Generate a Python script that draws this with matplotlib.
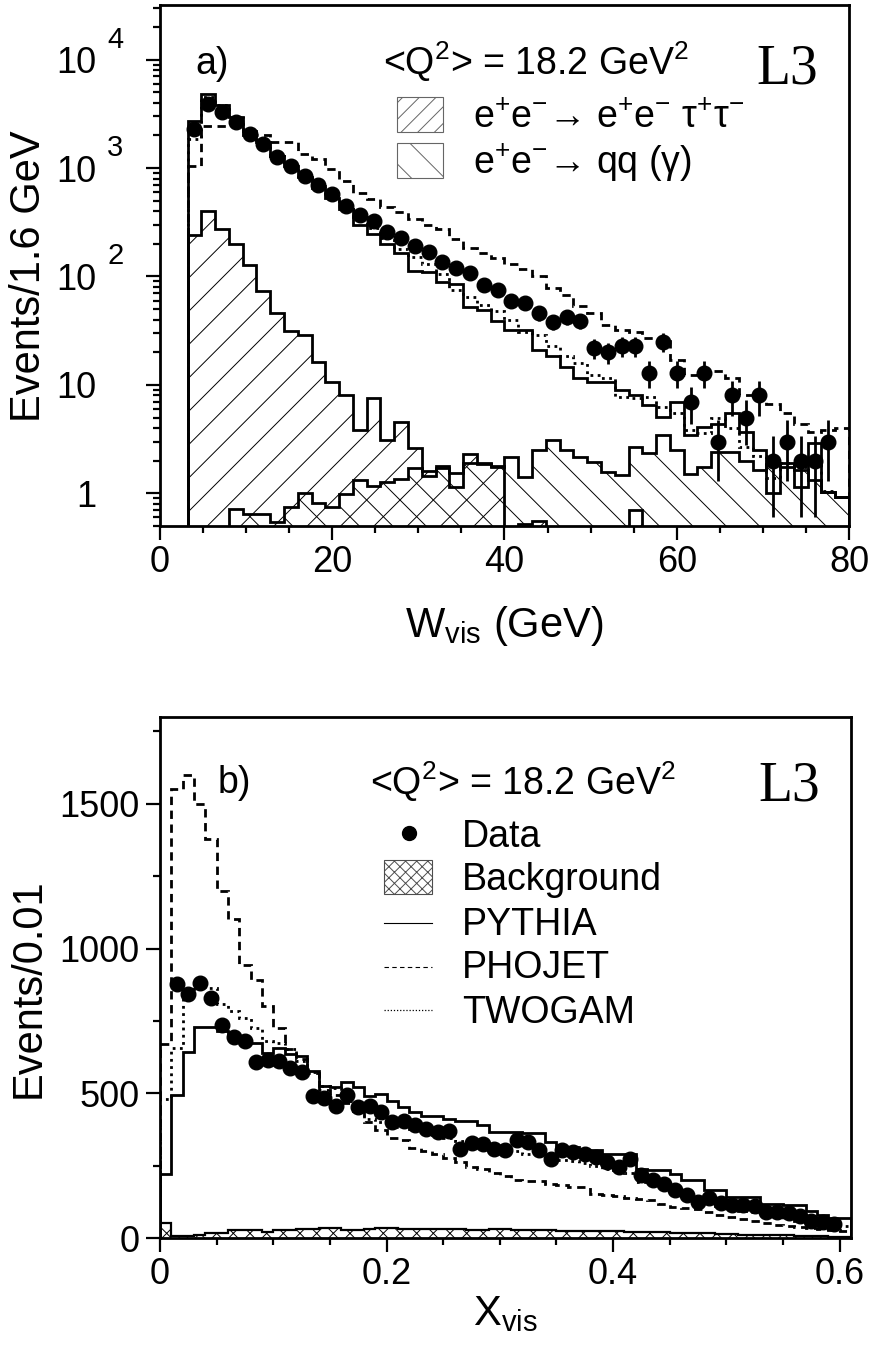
# L3 W_vis / x_vis distributions, <Q^2> = 18.2 GeV^2

import numpy as np
import matplotlib
matplotlib.use('Agg')
import matplotlib.pyplot as plt
import matplotlib.transforms as mtransforms
from matplotlib.patches import Rectangle
from matplotlib.lines import Line2D
from matplotlib.ticker import FixedLocator, FixedFormatter, MultipleLocator, LogLocator, NullFormatter, FuncFormatter

plt.rcParams['font.family'] = ['Liberation Sans', 'DejaVu Sans']
plt.rcParams['mathtext.fontset'] = 'custom'
plt.rcParams['mathtext.rm'] = 'Liberation Sans'
plt.rcParams['mathtext.it'] = 'Liberation Sans:italic'
plt.rcParams['mathtext.bf'] = 'Liberation Sans:bold'
plt.rcParams['hatch.linewidth'] = 0.7

# ---- panel a) : W_vis, bins of 1.6 GeV (50 bins, 0-80 GeV)
w_edges = np.arange(51) * 1.6
w_first = 2          # first bin with data
data_w = [2296, 3916, 3280, 2650, 2065, 1667, 1256, 1037, 849, 696, 575, 448, 367, 325, 257,
          228, 191, 168, 136, 120, 108, 84, 75, 59, 57, 46, 38, 42, 39, 22, 20, 23, 23, 13, 25,
          13, 7, 13, 3, 8, 5, 8, 2, 3, 2, 2, 3]
err_w = [48, 63, 57, 51, 45, 41, 35, 32, 29, 26, 24, 21, 19, 18, 16, 15, 14, 13, 12, 11, 10,
         9.2, 8.7, 7.7, 7.5, 6.8, 6.2, 6.5, 6.2, 4.7, 4.5, 4.8, 4.8, 3.6, 5.0, 3.6, 2.6, 3.6,
         1.7, 2.8, 2.2, 2.8, 1.4, 1.7, 1.4, 1.4, 1.7]
pythia_w = [0, 0, 2740, 4840, 3840, 2950, 2200, 1750, 1300, 1050, 820, 650, 530, 420, 300, 245,
            198, 165, 112, 110, 88, 85, 52, 49, 38.5, 32, 32, 21, 18.3, 14.7, 11.5, 10.7, 10.7,
            9.0, 8.1, 6.5, 5.1, 7.0, 3.45, 4.1, 4.4, 5.5, 3.7, 2.5, 1.0, 1.9, 1.14, 2.9, 1.03, 0.92]
phojet_w = [0, 0, 1050, 2420, 2420, 2420, 2000, 2000, 1740, 1740, 1340, 1220, 980, 760, 595, 520,
            435, 390, 340, 300, 272, 220, 184, 163, 149, 129, 116, 100, 78, 68, 53, 46, 36, 32,
            31, 27, 26.5, 17, 12.4, 12.8, 13.3, 11.5, 8.1, 7.5, 6.7, 5.5, 4.4, 3.7, 3.8, 4.0]
twogam_w = [0, 0, 1850, 4500, 3800, 2900, 2200, 1700, 1300, 1050, 850, 680, 550, 440, 350, 280,
            225, 180, 150, 130, 105, 75, 64, 55, 48, 40, 31, 29, 22.6, 18.3, 15.9, 12.4, 11.6,
            7.8, 7.6, 7.8, 6.3, 5.5, 3.8, 3.6, 4.9, 4.0, 2.7, 2.2, 1.37, 1.9, 1.75, 1.9, 1.06, 0.92]
tautau_w = [0, 0, 240, 400, 272, 198, 127, 73, 46, 31.6, 29, 16.4, 10.7, 8.1, 3.8, 7.5, 3.1, 4.5,
            2.6, 1.6, 1.7, 1.15, 2.3, 1.9, 1.8, 0, 0.52, 0.56, 0, 0, 0, 0, 0, 0, 0.7, 0, 0, 0, 0,
            0, 0, 0, 0, 0, 0, 0, 0, 0, 0, 0]
qq_w = [0, 0, 0, 0, 0, 0.71, 0.64, 0.64, 0.54, 0.75, 1.0, 0.82, 0.74, 0.98, 1.32, 1.17, 1.27, 1.35,
        1.7, 1.45, 1.8, 1.55, 1.9, 1.85, 1.75, 2.17, 1.42, 2.5, 3.1, 2.5, 2.17, 1.95, 1.57, 1.47,
        2.68, 2.33, 3.45, 2.5, 1.5, 1.75, 2.4, 2.4, 2.0, 1.63, 1.88, 1.75, 1.63, 1.32, 1.03, 0.92]
w_yticks = [1, 10, 100, 1000, 10000]
w_ytick_base = ['1', '10', '10', '10', '10']
w_ytick_exp = ['', '', '2', '3', '4']

# ---- panel b) : x_vis, bins of 0.01 (61 bins, 0-0.61)
x_edges = np.arange(62) * 0.01
x_first = 1
data_x = [877, 843, 880, 829, 736, 693, 681, 609, 615, 612, 589, 572, 490, 484, 457, 494, 454,
          457, 437, 400, 406, 390, 377, 368, 371, 308, 328, 326, 308, 303, 337, 331, 303, 274,
          303, 297, 291, 280, 262, 245, 274, 217, 200, 188, 165, 150, 125, 140, 120, 115, 115,
          110, 90, 90, 85, 75, 60, 55, 50]
pythia_x = [220, 494, 644, 729, 729, 715, 704, 679, 675, 641, 658, 635, 629, 576, 526, 521, 540,
            521, 492, 498, 475, 454, 435, 420, 423, 410, 406, 406, 389, 366, 366, 366, 362, 362,
            331, 314, 314, 303, 303, 291, 291, 291, 240, 234, 234, 222, 200, 200, 165, 165, 142,
            142, 142, 119, 119, 114, 114, 95, 80, 70, 70]
phojet_x = [670, 1550, 1600, 1500, 1380, 1200, 1103, 945, 893, 802, 727, 652, 618, 570, 513, 495,
            468, 440, 402, 372, 344, 337, 310, 300, 289, 275, 262, 245, 238, 225, 215, 200, 196,
            196, 185, 182, 178, 175, 152, 150, 145, 138, 134, 132, 118, 107, 105, 100, 90, 80, 72,
            65, 58, 52, 46, 42, 38, 34, 30, 27, 25]
twogam_x = [480, 658, 842, 870, 865, 807, 784, 761, 724, 680, 673, 652, 612, 572, 526, 517, 475,
            452, 412, 400, 393, 385, 375, 365, 355, 345, 335, 330, 320, 305, 300, 300, 292, 290,
            285, 270, 265, 260, 250, 240, 235, 225, 195, 185, 175, 150, 145, 135, 125, 110, 105,
            95, 90, 80, 75, 65, 60, 55, 50, 45, 40]
bkg_x = [53, 8, 8, 10, 19, 19, 27, 27, 27, 20, 27, 27, 31, 31, 34, 34, 28, 28, 30, 34, 34, 30, 30,
         32, 32, 30, 30, 28, 28, 30, 30, 28, 28, 27, 27, 26, 26, 25, 25, 24, 24, 22, 22, 20, 20,
         18, 18, 16, 16, 14, 14, 12, 12, 10, 10, 9, 8, 7, 6, 5, 5]

TICK_FS = 26
LABEL_FS = 30
LEG_FS = 27
LW = 2.0
DASH = (0, (3, 2))
DOT = (0, (1, 1.6))


def style_axes(ax):
    for s in ax.spines.values():
        s.set_linewidth(2)
    ax.tick_params(which='both', direction='out', width=1.6, labelsize=TICK_FS,
                   top=False, right=False)
    ax.tick_params(which='major', length=10)
    ax.tick_params(which='minor', length=5)
    ax.tick_params(axis='x', which='major', pad=4)
    ax.tick_params(axis='y', which='major', pad=5)


fig = plt.figure(figsize=(8.72, 13.59), dpi=100)
ax1 = fig.add_axes([0.1835, 0.6130, 0.7901, 0.3834])
ax2 = fig.add_axes([0.1835, 0.0890, 0.7924, 0.3834])

# ---------------- panel a
ax1.set_yscale('log')
floor = 1e-3
tau = np.clip(np.array(tautau_w, float), floor, None)
qq = np.clip(np.array(qq_w, float), floor, None)
ax1.stairs(tau, w_edges, baseline=floor, fill=True, hatch='/', facecolor='none',
           edgecolor='black', lw=0)
ax1.stairs(qq, w_edges, baseline=floor, fill=True, hatch='\\', facecolor='none',
           edgecolor='black', lw=0)
ax1.stairs(tau, w_edges, baseline=floor, color='black', lw=LW)
ax1.stairs(qq, w_edges, baseline=floor, color='black', lw=LW)
ax1.stairs(np.clip(pythia_w, floor, None), w_edges, baseline=floor, color='black', lw=LW)
ax1.stairs(np.clip(phojet_w, floor, None), w_edges, baseline=floor, color='black', lw=LW,
           linestyle=DASH)
ax1.stairs(np.clip(twogam_w, floor, None), w_edges, baseline=floor, color='black', lw=LW,
           linestyle=DOT)

w_cent = (w_edges[:-1] + w_edges[1:]) / 2
wc = w_cent[w_first:w_first + len(data_w)]
ax1.errorbar(wc, data_w, yerr=err_w, fmt='o', color='black', ms=10.5, elinewidth=2, capsize=0)

ax1.set_xlim(0, 80)
ax1.set_ylim(0.5, 3.2e4)
style_axes(ax1)
ax1.tick_params(axis='y', which='major', pad=36)
ax1.xaxis.set_major_locator(MultipleLocator(20))
ax1.xaxis.set_minor_locator(MultipleLocator(5))
ax1.yaxis.set_major_locator(FixedLocator(w_yticks))
ax1.yaxis.set_major_formatter(FixedFormatter(w_ytick_base))
ax1.yaxis.set_minor_locator(LogLocator(base=10, subs=np.arange(2, 10)))
ax1.yaxis.set_minor_formatter(NullFormatter())
# exponents of the decade labels, drawn PAW-style to the right of the "10"
exp_tr = mtransforms.offset_copy(ax1.get_yaxis_transform(), fig=fig, x=-53, y=12, units='dots')
for yv, e in zip(w_yticks, w_ytick_exp):
    if e:
        ax1.text(0, yv, e, transform=exp_tr, fontsize=21, ha='left', va='baseline')

ax1.set_xlabel(r'W$_{\rm vis}$ (GeV)', fontsize=LABEL_FS, va='baseline')
ax1.xaxis.set_label_coords(0.5, -0.213)
ax1.set_ylabel('Events/1.6 GeV', fontsize=LABEL_FS, va='center')
ax1.yaxis.set_label_coords(-0.19, 0.48)

ax1.text(0.051, 0.868, 'a)', transform=ax1.transAxes, fontsize=LEG_FS, va='baseline')
ax1.text(0.324, 0.866, r'<Q$^{2}$> = 18.2 GeV$^{2}$', transform=ax1.transAxes,
         fontsize=LEG_FS, va='baseline')
ax1.text(0.866, 0.850, 'L3', transform=ax1.transAxes, fontsize=40, va='baseline',
         family='Liberation Serif')
ax1.add_patch(Rectangle((0.344, 0.756), 0.0668, 0.0672, transform=ax1.transAxes,
                        facecolor='none', edgecolor='0.4', lw=0.8, hatch='//'))
ax1.add_patch(Rectangle((0.344, 0.668), 0.0668, 0.0672, transform=ax1.transAxes,
                        facecolor='none', edgecolor='0.4', lw=0.8, hatch='\\'))
ax1.text(0.454, 0.764, 'e$^{+}$e$^{-}$\u2192 e$^{+}$e$^{-}$ \u03c4$^{+}$\u03c4$^{-}$',
         transform=ax1.transAxes, fontsize=LEG_FS, va='baseline')
ax1.text(0.454, 0.676, 'e$^{+}$e$^{-}$\u2192 qq (\u03b3)',
         transform=ax1.transAxes, fontsize=LEG_FS, va='baseline')

# ---------------- panel b
ax2.stairs(bkg_x, x_edges, baseline=0, fill=True, hatch='xx', facecolor='none',
           edgecolor='black', lw=0)
ax2.stairs(bkg_x, x_edges, baseline=0, color='black', lw=1.6)
ax2.stairs(pythia_x, x_edges, baseline=0, color='black', lw=LW)
ax2.stairs(phojet_x, x_edges, baseline=0, color='black', lw=LW, linestyle=DASH)
ax2.stairs(twogam_x, x_edges, baseline=0, color='black', lw=LW, linestyle=DOT)

x_cent = (x_edges[:-1] + x_edges[1:]) / 2
xc = x_cent[x_first:x_first + len(data_x)]
ax2.plot(xc, data_x, 'o', color='black', ms=10.5)

ax2.set_xlim(0, 0.61)
ax2.set_ylim(0, 1800)
style_axes(ax2)
ax2.xaxis.set_major_locator(MultipleLocator(0.2))
ax2.xaxis.set_minor_locator(MultipleLocator(0.05))
ax2.xaxis.set_major_formatter(FuncFormatter(lambda v, p: '0' if abs(v) < 1e-9 else '%g' % v))
ax2.yaxis.set_major_locator(MultipleLocator(500))
ax2.yaxis.set_minor_locator(MultipleLocator(250))

ax2.set_xlabel(r'X$_{\rm vis}$', fontsize=LABEL_FS, va='baseline')
ax2.xaxis.set_label_coords(0.5, -0.168)
ax2.set_ylabel('Events/0.01', fontsize=LABEL_FS, va='center')
ax2.yaxis.set_label_coords(-0.19, 0.48)

ax2.text(0.084, 0.854, 'b)', transform=ax2.transAxes, fontsize=LEG_FS, va='baseline')
ax2.text(0.304, 0.850, r'<Q$^{2}$> = 18.2 GeV$^{2}$', transform=ax2.transAxes,
         fontsize=LEG_FS, va='baseline')
ax2.text(0.866, 0.8407, 'L3', transform=ax2.transAxes, fontsize=40, va='baseline',
         family='Liberation Serif')

lx0, lx1, tx = 0.324, 0.3936, 0.437
ax2.plot([0.3603], [0.7774], 'o', color='black', ms=10, transform=ax2.transAxes, clip_on=False)
ax2.add_patch(Rectangle((lx0, 0.660), lx1 - lx0, 0.0653, transform=ax2.transAxes,
                        facecolor='none', edgecolor='0.3', lw=0.8, hatch='xxx'))
ax2.add_line(Line2D([lx0, lx1], [0.6046, 0.6046], color='black', lw=0.8,
                    transform=ax2.transAxes))
ax2.add_line(Line2D([lx0, lx1], [0.520, 0.520], color='black', lw=0.8, linestyle=(0, (4, 3)),
                    transform=ax2.transAxes))
ax2.add_line(Line2D([lx0, lx1], [0.4376, 0.4376], color='black', lw=0.9, linestyle=(0, (1, 1.5)),
                    transform=ax2.transAxes))
leg_labels = ['Data', 'Background', 'PYTHIA', 'PHOJET', 'TWOGAM']
leg_base = [0.7511, 0.668, 0.5816, 0.499, 0.4127]
for lab, yb in zip(leg_labels, leg_base):
    ax2.text(tx, yb, lab, transform=ax2.transAxes, fontsize=LEG_FS, va='baseline')

fig.savefig('out.png', dpi=100)
